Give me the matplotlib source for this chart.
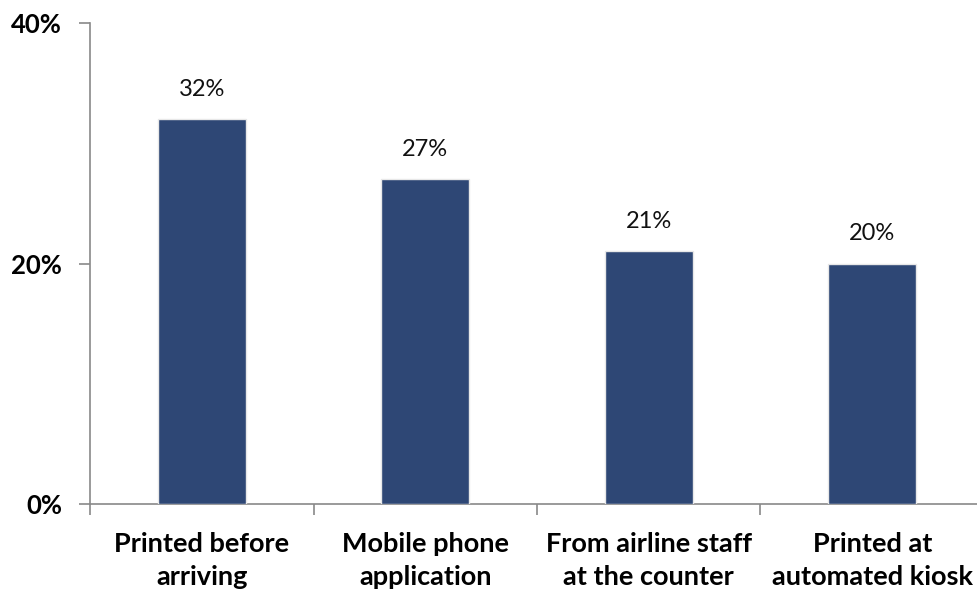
import matplotlib
matplotlib.use("Agg")
import matplotlib.pyplot as plt
from matplotlib.ticker import FuncFormatter

categories = ["Printed before\narriving", "Mobile phone\napplication",
              "From airline staff\nat the counter", "Printed at\nautomated kiosk"]
values = [32, 27, 21, 20]
y_ticks = [0, 20, 40]

plt.rcParams['font.family'] = ['Lato', 'DejaVu Sans']

fig = plt.figure(figsize=(9.77, 5.91), dpi=100)
ax = fig.add_axes([90 / 977, 87 / 591, 894 / 977, 481 / 591])

x = list(range(len(categories)))
bars = ax.bar(x, values, width=0.395, color="#2E4775", edgecolor="#e8e8e8", linewidth=1.0, zorder=3)

for xi, v in zip(x, values):
    ax.text(xi, v + 1.6, f"{v}%", ha="center", va="bottom", fontsize=17, color="#111111")

ax.set_xlim(-0.5, len(categories) - 0.5)
ax.set_ylim(0, 40)
ax.set_yticks(y_ticks)
ax.yaxis.set_major_formatter(FuncFormatter(lambda v, p: f"{v:.0f}%"))
for lab in ax.get_yticklabels():
    lab.set_fontweight("bold")
    lab.set_fontsize(18.5)

# category labels centred, ticks at boundaries
ax.set_xticks(x)
ax.set_xticklabels(categories, fontsize=19.5, fontweight="bold", linespacing=1.45)
ax.tick_params(axis="x", which="major", length=0, pad=20)
ax.set_xticks([i - 0.5 for i in range(len(categories) + 1)], minor=True)
ax.tick_params(axis="x", which="minor", length=8, color="#898989", width=1.2, direction="out")
ax.tick_params(axis="y", length=8, color="#898989", width=1.2, direction="out", pad=12)

for side in ["top", "right"]:
    ax.spines[side].set_visible(False)
for side in ["left", "bottom"]:
    ax.spines[side].set_color("#898989")
    ax.spines[side].set_linewidth(1.2)

fig.savefig("out.png", dpi=100)
